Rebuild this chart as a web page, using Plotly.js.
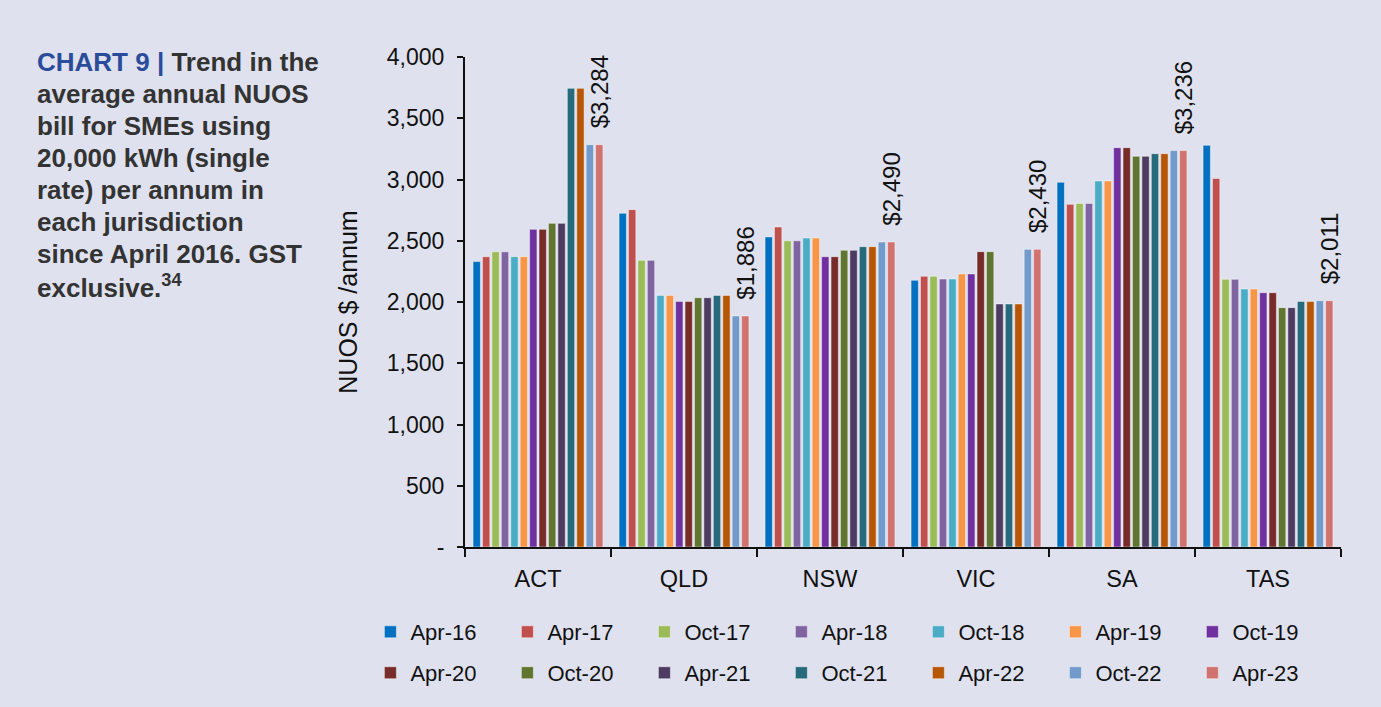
<!DOCTYPE html>
<html>
<head>
<meta charset="utf-8">
<script src="https://cdn.plot.ly/plotly-3.0.1.min.js"></script>
<style>
  html, body { margin: 0; padding: 0; background: #dfe2ee; }
  #chart { width: 1381px; height: 707px; }
</style>
</head>
<body>
<div id="chart"></div>
<script>
// ---- Data ----
var categories = ['ACT', 'QLD', 'NSW', 'VIC', 'SA', 'TAS'];
var seriesNames = ['Apr-16', 'Apr-17', 'Oct-17', 'Apr-18', 'Oct-18', 'Apr-19', 'Oct-19',
                   'Apr-20', 'Oct-20', 'Apr-21', 'Oct-21', 'Apr-22', 'Oct-22', 'Apr-23'];
var apr16 = [2330, 2724, 2531, 2177, 2977, 3279];
var apr17 = [2370, 2754, 2612, 2210, 2797, 3009];
var oct17 = [2410, 2340, 2500, 2210, 2805, 2185];
var apr18 = [2410, 2340, 2500, 2188, 2805, 2185];
var oct18 = [2370, 2054, 2522, 2188, 2988, 2106];
var apr19 = [2370, 2054, 2522, 2229, 2988, 2106];
var oct19 = [2593, 2005, 2370, 2229, 3260, 2076];
var apr20 = [2593, 2005, 2370, 2411, 3260, 2076];
var oct20 = [2642, 2035, 2422, 2411, 3189, 1954];
var apr21 = [2642, 2035, 2422, 1984, 3189, 1954];
var oct21 = [3744, 2054, 2452, 1984, 3211, 2005];
var apr22 = [3744, 2054, 2452, 1984, 3211, 2005];
var oct22 = [3284, 1886, 2490, 2430, 3236, 2011];
var apr23 = [3284, 1886, 2490, 2430, 3236, 2011];
var yTickValues = [0, 500, 1000, 1500, 2000, 2500, 3000, 3500, 4000];
var yTickLabels = ['-', '500', '1,000', '1,500', '2,000', '2,500', '3,000', '3,500', '4,000'];
var titleLines = [
  '<span style="color:#2b4c9b">CHART 9 |</span> Trend in the',
  'average annual NUOS',
  'bill for SMEs using',
  '20,000 kWh (single',
  'rate) per annum in',
  'each jurisdiction',
  'since April 2016. GST',
  'exclusive.<sup>34</sup>'
];

// ---- Style ----
var seriesValues = [apr16, apr17, oct17, apr18, oct18, apr19, oct19,
                    apr20, oct20, apr21, oct21, apr22, oct22, apr23];
var colors = ['#0070C0', '#C0504D', '#9BBB59', '#8064A2', '#4BACC6', '#F79646', '#7030A0',
              '#772C2A', '#5F7530', '#4D3B62', '#276A7C', '#B65708', '#729ACA', '#D07370'];
var FONT = '"Liberation Sans", Arial, Helvetica, sans-serif';

var traces = seriesValues.map(function (vals, i) {
  var t = {
    type: 'bar',
    name: seriesNames[i],
    x: categories,
    y: vals,
    marker: { color: colors[i], line: { color: 'rgba(255,255,255,0.45)', width: 1 } },
    legend: i < 7 ? 'legend' : 'legend2',
    hoverinfo: 'x+y+name'
  };
  if (i === seriesValues.length - 1) {
    t.text = vals.map(function (v) { return '\u00A0\u00A0$' + v.toLocaleString('en-US'); });
    t.textposition = 'outside';
    t.textangle = -90;
    t.constraintext = 'none';
    t.cliponaxis = false;
    t.textfont = { family: FONT, size: 24, color: '#111' };
  }
  return t;
});

var legendCommon = {
  orientation: 'h',
  xref: 'paper', yref: 'paper',
  x: -0.108, xanchor: 'left',
  yanchor: 'middle',
  entrywidth: 92,
  bgcolor: 'rgba(0,0,0,0)',
  font: { family: FONT, size: 22, color: '#111' },
  traceorder: 'normal'
};
var legend1 = Object.assign({}, legendCommon, { y: -0.1735 });
var legend2 = Object.assign({}, legendCommon, { y: -0.257 });

// title block: one annotation per line, 32 px line pitch, first line centred at y=62px
var plotTop = 57, plotH = 490;
var titleAnnotations = titleLines.map(function (line, k) {
  var py = 62 + 32 * k;
  return {
    xref: 'paper', yref: 'paper',
    x: (35 - 465) / 876, y: (plotTop + plotH - py) / plotH,
    xanchor: 'left', yanchor: 'middle',
    align: 'left',
    showarrow: false,
    font: { family: FONT, size: 26, color: '#333333' },
    text: '<b>' + line + '</b>'
  };
});

var layout = {
  width: 1381,
  height: 707,
  paper_bgcolor: '#dfe2ee',
  plot_bgcolor: '#dfe2ee',
  margin: { l: 465, r: 40, t: 57, b: 160, autoexpand: false },
  barmode: 'group',
  bargap: 0.096,
  bargroupgap: 0.22,
  font: { family: FONT, size: 22, color: '#111' },
  showlegend: true,
  legend: legend1,
  legend2: legend2,
  xaxis: {
    type: 'category',
    tickson: 'boundaries',
    ticks: 'outside',
    ticklen: 8,
    tickwidth: 1.5,
    tickcolor: '#111',
    ticklabelstandoff: 10,
    showline: true,
    linecolor: '#111',
    linewidth: 2,
    showgrid: false,
    zeroline: false,
    tickfont: { family: FONT, size: 23.5, color: '#111' },
    fixedrange: true
  },
  yaxis: {
    range: [0, 4000],
    tickvals: yTickValues,
    ticktext: yTickLabels,
    ticks: 'outside',
    ticklen: 6,
    tickwidth: 1.5,
    tickcolor: '#111',
    ticklabelstandoff: 8,
    showline: true,
    linecolor: '#111',
    linewidth: 2,
    showgrid: false,
    zeroline: false,
    tickfont: { family: FONT, size: 23, color: '#111' },
    title: { text: 'NUOS $ /annum', font: { family: FONT, size: 25, color: '#111' }, standoff: 22 },
    fixedrange: true
  },
  annotations: titleAnnotations
};

Plotly.newPlot('chart', traces, layout, { displayModeBar: false });
</script>
</body>
</html>
